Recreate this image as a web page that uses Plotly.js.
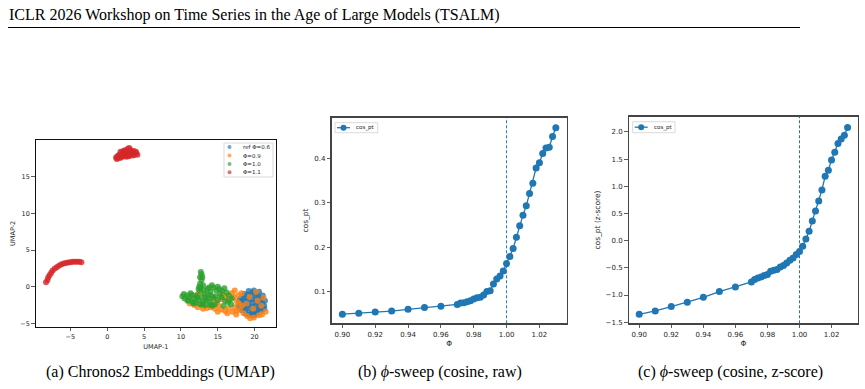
<!DOCTYPE html>
<html>
<head>
<meta charset="utf-8">
<script src="https://cdn.plot.ly/plotly-3.0.1.min.js"></script>
<style>
  html, body { margin: 0; padding: 0; background: #ffffff; }
  #fig { width: 865px; height: 389px; }
</style>
</head>
<body>
<div id="fig"></div>
<script>
// ---- (a) UMAP embeddings, one cluster list per phi setting ----
const refX = [19.7,19.2,20.2,19.2,20.2,19.7,19.7,18.7,20.7,18.1,18.0,18.3,18.8,19.5,20.3,20.9,21.3,21.4,21.1,20.6,19.9,19.2,18.6,18.6,18.6,19.2,20.2,20.8,20.9,20.3,19.1,19.7,19.7,21.0,18.3,17.8,17.9,
              19.0,20.4,19.7,19.7,18.9,20.5,18.9,20.5,21.3,18.2,19.3,20.0];
const refY = [-2.2,-1.8,-1.8,-2.6,-2.6,-1.2,-3.2,-2.2,-2.2,-1.6,-2.4,-3.2,-3.7,-3.9,-3.7,-3.3,-2.6,-1.9,-1.2,-0.7,-0.5,-0.6,-1.0,-1.6,-2.9,-3.4,-3.3,-2.8,-1.6,-1.1,-1.1,-0.8,-3.6,-2.2,-2.0,-2.6,-1.9,
              -2.2,-2.2,-2.7,-1.7,-1.5,-1.4,-2.9,-3.0,-3.0,-2.9,-3.9,-3.9];

const p09X = [11.2,11.8,12.3,12.9,13.5,14.0,14.6,15.1,15.5,16.0,16.5,17.0,17.3,17.6,14.9,15.5,16.1,16.6,17.2,17.6,17.8,14.3,15.7,16.9,13.3,12.3,18.2,18.5,19.0,19.4,19.3,19.8,20.9,21.5,20.4,18.9,21.2,20.2,20.6,18.3,17.3,
              17.5,18.0,16.3,15.0,13.0,17.9,19.9,21.0];
const p09Y = [-2.3,-2.5,-2.8,-2.6,-2.9,-2.8,-3.0,-2.6,-3.1,-3.3,-2.9,-3.4,-2.8,-3.3,-2.2,-1.7,-1.5,-1.8,-1.4,-2.0,-1.2,-1.7,-1.1,-0.9,-1.4,-1.0,-0.9,-3.6,-4.0,-4.3,-1.4,-3.0,-2.6,-3.4,-1.9,-2.3,-1.5,-0.7,-3.9,-2.6,-0.5,
              -3.8,-3.1,-3.6,-3.4,-3.0,-2.3,-4.2,-3.8];

const p10X = [10.2,10.5,10.8,11.0,11.2,11.5,11.5,11.8,12.0,12.1,12.4,12.6,12.8,13.0,13.2,13.3,13.6,13.9,14.1,14.3,12.6,12.7,12.6,12.8,12.6,12.8,12.7,13.0,13.1,12.4,13.6,14.0,14.4,14.8,15.2,15.6,15.9,15.3,14.7,16.2,16.5,15.0,16.4,16.8,15.8,14.6,13.8,
              10.4,10.9,11.3,11.7,12.2,12.9,13.4,13.7,14.4,14.0,15.5,16.0,16.9,14.2,15.0,12.9,12.5];
const p10Y = [-1.3,-1.6,-1.2,-1.8,-1.4,-1.1,-2.0,-1.6,-2.2,-1.2,-1.8,-2.4,-1.4,-2.0,-1.0,-2.5,-1.6,-2.1,-1.2,-2.6,-0.6,-0.1,0.4,0.9,1.3,1.7,2.0,0.2,-0.5,-0.3,-0.3,-0.7,-0.1,-0.5,-0.3,-0.6,-0.2,-1.0,-1.3,-0.8,-1.2,-1.8,-2.1,-2.4,-2.6,-2.4,-0.1,
              -1.0,-1.9,-0.9,-2.3,-1.5,-2.4,-1.8,-1.1,-1.5,-2.5,-1.4,-1.9,-1.6,0.2,0.0,1.3,0.0];

const p11X = [1.3,1.4,1.7,1.9,2.0,2.2,2.4,2.5,2.6,2.8,2.9,3.1,3.2,3.4,3.6,3.7,3.9,4.1,1.6,2.2,
              1.5,1.8,2.4,2.7,3.0,3.3,3.5,2.1,2.7,3.9,2.9,1.2,
              -8.3,-8.1,-8.0,-7.8,-7.6,-7.4,-7.1,-6.8,-6.5,-6.2,-5.9,-5.6,-5.3,-5.0,-4.7,-4.4,-4.1,-3.8,-3.5];
const p11Y = [17.4,17.7,18.0,17.6,18.3,17.8,18.6,18.1,17.7,18.8,18.3,17.9,18.6,18.2,18.5,18.0,18.2,18.0,17.5,18.5,
              17.9,18.4,18.3,18.4,18.9,18.4,17.9,17.9,17.9,18.4,17.8,17.6,
              0.6,0.9,1.3,1.6,1.9,2.2,2.5,2.7,2.9,3.05,3.15,3.25,3.3,3.35,3.4,3.4,3.4,3.4,3.35];

const groupNames = ['ref \u03A6=0.6', '\u03A6=0.9', '\u03A6=1.0', '\u03A6=1.1'];

// ---- (b), (c) phi sweep ----
const phi = [0.90,0.91,0.92,0.93,0.94,0.95,0.96,0.970,0.972,0.974,0.976,0.978,0.980,0.982,0.984,0.986,0.988,0.990,0.992,0.994,0.996,0.998,1.000,1.002,1.004,1.006,1.008,1.010,1.012,1.014,1.016,1.018,1.020,1.022,1.024,1.026,1.028,1.030];
const cosRaw = [0.049,0.051,0.054,0.056,0.060,0.064,0.067,0.071,0.074,0.075,0.077,0.079,0.083,0.086,0.087,0.092,0.100,0.102,0.117,0.128,0.135,0.146,0.163,0.179,0.197,0.222,0.248,0.272,0.293,0.321,0.344,0.378,0.390,0.411,0.423,0.425,0.449,0.469];
const cosZ = [-1.354,-1.292,-1.213,-1.133,-1.041,-0.937,-0.851,-0.759,-0.716,-0.685,-0.667,-0.643,-0.624,-0.563,-0.544,-0.532,-0.483,-0.459,-0.410,-0.361,-0.318,-0.256,-0.201,-0.103,0.032,0.173,0.363,0.547,0.731,0.933,1.185,1.295,1.485,1.626,1.785,1.871,1.939,2.080];
const phiTicks = [0.90,0.92,0.94,0.96,0.98,1.00,1.02];
const seriesName = 'cos_pt';

// ---- page geometry helpers (pixel -> paper) ----
const W = 865, H = 389;
const px = v => v / W;
const py = v => 1 - v / H;

const C_BLUE = '#1f77b4', C_ORANGE = '#ff7f0e', C_GREEN = '#2ca02c', C_RED = '#d62728';
const SANS = 'DejaVu Sans, sans-serif';
const SERIF = 'Liberation Serif, Times New Roman, serif';
const TXT = '#262626';

function cluster(x, y, color, name) {
  return {
    type: 'scatter', mode: 'markers', x: x, y: y, name: name,
    xaxis: 'x', yaxis: 'y', showlegend: false, hoverinfo: 'skip',
    marker: { color: color, size: 6, opacity: 0.8, line: { width: 0 } }
  };
}

function sweep(y, xa, ya) {
  return {
    type: 'scatter', mode: 'lines+markers', x: phi, y: y, name: seriesName,
    xaxis: xa, yaxis: ya, showlegend: false, hoverinfo: 'skip',
    line: { color: C_BLUE, width: 1.3 },
    marker: { color: C_BLUE, size: 7 }
  };
}

const traces = [
  cluster(refX, refY, C_BLUE, groupNames[0]),
  cluster(p09X, p09Y, C_ORANGE, groupNames[1]),
  cluster(p10X, p10Y, C_GREEN, groupNames[2]),
  cluster(p11X, p11Y, C_RED, groupNames[3]),
  sweep(cosRaw, 'x2', 'y2'),
  sweep(cosZ, 'x3', 'y3')
];

function axis(opts) {
  return Object.assign({
    showgrid: false, zeroline: false, showline: true, mirror: true,
    linecolor: '#333', linewidth: 1, ticks: 'outside', ticklen: 3.5,
    tickwidth: 0.8, tickcolor: '#333', automargin: false,
    tickfont: { family: SANS, size: 7, color: TXT }
  }, opts);
}

// axis title helper
function ttl(text, size, standoff) {
  return { text: text, font: { family: SANS, size: size, color: TXT }, standoff: standoff };
}

const layout = {
  width: W, height: H,
  margin: { l: 0, r: 0, t: 0, b: 0 },
  paper_bgcolor: '#ffffff', plot_bgcolor: '#ffffff',
  showlegend: false,
  xaxis: axis({
    domain: [px(35.7), px(276)], range: [-9.7, 22.9], anchor: 'y',
    tickvals: [-5, 0, 5, 10, 15, 20], linecolor: '#111',
    tickfont: { family: SANS, size: 6.5, color: TXT },
    title: ttl('UMAP-1', 6.5, 4)
  }),
  yaxis: axis({
    domain: [py(326.7), py(140)], range: [-5.45, 20.0], anchor: 'x',
    tickvals: [-5, 0, 5, 10, 15], linecolor: '#111',
    tickfont: { family: SANS, size: 6.5, color: TXT },
    title: ttl('UMAP-2', 6.5, 4)
  }),
  xaxis2: axis({
    domain: [px(331.7), px(566.5)], range: [0.8935, 1.0365], anchor: 'y2',
    tickvals: phiTicks, tickformat: '.2f', linecolor: '#444', linewidth: 1.3,
    title: ttl('\u03A6', 7.5, 3)
  }),
  yaxis2: axis({
    domain: [py(323.3), py(117.7)], range: [0.0285, 0.4915], anchor: 'x2',
    tickvals: [0.1, 0.2, 0.3, 0.4], tickformat: '.1f', linecolor: '#444', linewidth: 1.3,
    title: ttl('cos_pt', 7.5, 4)
  }),
  xaxis3: axis({
    domain: [px(628.8), px(858)], range: [0.8935, 1.0365], anchor: 'y3',
    tickvals: phiTicks, tickformat: '.2f', linecolor: '#444', linewidth: 1.3,
    title: ttl('\u03A6', 7.5, 3)
  }),
  yaxis3: axis({
    domain: [py(323.3), py(116.7)], range: [-1.52, 2.28], anchor: 'x3',
    tickvals: [-1.5, -1.0, -0.5, 0.0, 0.5, 1.0, 1.5, 2.0], tickformat: '.1f', linecolor: '#444', linewidth: 1.3,
    title: ttl('cos_pt (z-score)', 7.5, 4)
  }),
  shapes: [],
  annotations: []
};

// reference line at phi = 1.0
[['x2', 'y2'], ['x3', 'y3']].forEach(([xa, ya]) => {
  layout.shapes.push({
    type: 'line', xref: xa, yref: ya + ' domain', x0: 1.0, x1: 1.0, y0: 0, y1: 1,
    line: { color: C_BLUE, width: 1, dash: '3px,2px' }
  });
});

// page header and rule
layout.annotations.push({
  xref: 'paper', yref: 'paper', x: px(7), y: py(15), xanchor: 'left', yanchor: 'middle',
  text: 'ICLR 2026 Workshop on Time Series in the Age of Large Models (TSALM)',
  showarrow: false, font: { family: SERIF, size: 16, color: '#000' }
});
layout.shapes.push({
  type: 'line', xref: 'paper', yref: 'paper', x0: px(8), x1: px(800), y0: py(27.5), y1: py(27.5),
  line: { color: '#000', width: 1.2 }
});

// sub-figure captions
const captions = [
  ['(a) Chronos2 Embeddings (UMAP)', 160],
  ['(b) <i>\u03D5</i>-sweep (cosine, raw)', 440],
  ['(c) <i>\u03D5</i>-sweep (cosine, z-score)', 730]
];
captions.forEach(([t, cx]) => {
  layout.annotations.push({
    xref: 'paper', yref: 'paper', x: px(cx), y: py(372), xanchor: 'center', yanchor: 'middle',
    text: t, showarrow: false, font: { family: SERIF, size: 16, color: '#000' }
  });
});

// legend boxes
function legendBox(x0, y0, x1, y1) {
  layout.shapes.push({
    type: 'rect', xref: 'paper', yref: 'paper', x0: px(x0), x1: px(x1), y0: py(y1), y1: py(y0),
    line: { color: '#d0d0d0', width: 0.8 }, fillcolor: 'rgba(255,255,255,0.85)'
  });
}
function legendDot(cx, cy, color, r, opacity) {
  layout.shapes.push({
    type: 'circle', xref: 'paper', yref: 'paper', xsizemode: 'pixel', ysizemode: 'pixel',
    xanchor: px(cx), yanchor: py(cy), x0: -r, x1: r, y0: -r, y1: r,
    fillcolor: color, opacity: opacity, line: { width: 0 }
  });
}
function legendText(x, y, t, size) {
  layout.annotations.push({
    xref: 'paper', yref: 'paper', x: px(x), y: py(y), xanchor: 'left', yanchor: 'middle',
    text: t, showarrow: false, font: { family: SANS, size: size, color: TXT }
  });
}

// (a) legend
legendBox(224, 143, 273, 177);
const rows = [147, 155.5, 164, 172.3];
const cols = [C_BLUE, C_ORANGE, C_GREEN, C_RED];
rows.forEach((ry, i) => {
  legendDot(229.5, ry, cols[i], 2, 0.65);
  legendText(241, ry, groupNames[i], 5.5);
});

// (b), (c) legends
[[335, 122.7, 377.7, 132.7], [632.7, 121.7, 675, 132.7]].forEach(([x0, y0, x1, y1]) => {
  legendBox(x0, y0, x1, y1);
  const cy = (y0 + y1) / 2;
  layout.shapes.push({
    type: 'line', xref: 'paper', yref: 'paper', x0: px(x0 + 2), x1: px(x0 + 15), y0: py(cy), y1: py(cy),
    line: { color: C_BLUE, width: 1.3 }
  });
  legendDot(x0 + 8.5, cy, C_BLUE, 3, 1);
  legendText(x0 + 19, cy, seriesName, 5.5);
});

Plotly.newPlot('fig', traces, layout, { staticPlot: true, displayModeBar: false });
</script>
</body>
</html>
